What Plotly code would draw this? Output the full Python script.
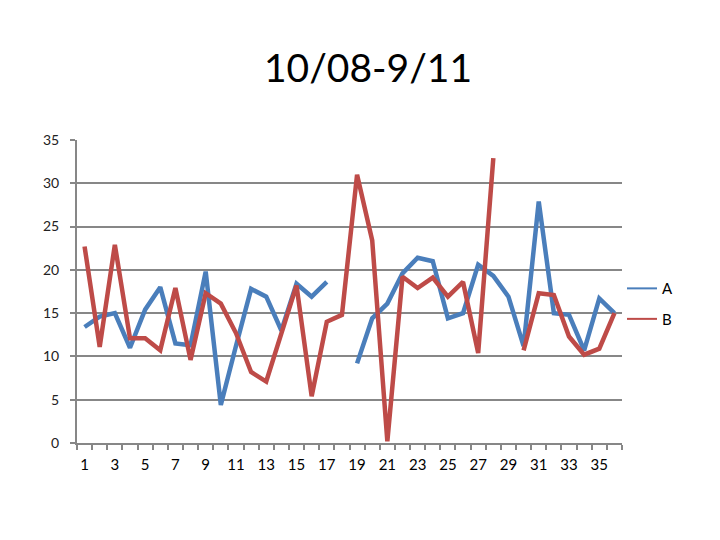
import plotly.graph_objects as go

categories = list(range(1, 37))
series_a = [13.4, 14.6, 15.0, 11.0, 15.4, 18.0, 11.5, 11.3, 19.8, 4.4,
            11.2, 17.8, 16.9, 13.0, 18.4, 16.9, 18.6, None, 9.2, 14.4,
            16.1, 19.6, 21.4, 21.0, 14.4, 15.0, 20.6, 19.3, 16.9, 11.2,
            27.9, 15.0, 14.8, 10.7, 16.7, 15.0]
series_b = [22.7, 11.1, 22.9, 12.1, 12.1, 10.7, 17.9, 9.6, 17.3, 16.1,
            12.7, 8.2, 7.1, 12.7, 18.2, 5.4, 14.0, 14.8, 31.0, 23.4,
            0.2, 19.2, 17.9, 19.1, 16.9, 18.6, 10.4, 32.9, None, 10.7,
            17.3, 17.1, 12.3, 10.2, 10.9, 15.0]
x_tick_labels = [str(v) for v in range(1, 37, 2)]
y_ticks = [0, 5, 10, 15, 20, 25, 30, 35]

BLUE = "#4A7EBB"
RED = "#BE4B48"
GRID = "#878787"
FONT = "Lato, Open Sans, sans-serif"

fig = go.Figure()
fig.add_trace(go.Scatter(x=categories, y=series_a, mode="lines", name="A",
                         line=dict(color=BLUE, width=4.5), showlegend=False,
                         connectgaps=False))
fig.add_trace(go.Scatter(x=categories, y=series_b, mode="lines", name="B",
                         line=dict(color=RED, width=4.5), showlegend=False,
                         connectgaps=False))
# legend entries with thin sample lines
fig.add_trace(go.Scatter(x=[None], y=[None], mode="lines", name="A",
                         legendgroup="a", line=dict(color=BLUE, width=2)))
fig.add_trace(go.Scatter(x=[None], y=[None], mode="lines", name="B",
                         legendgroup="b", line=dict(color=RED, width=2)))

fig.update_layout(
    width=720, height=540,
    margin=dict(l=69, r=106, t=132, b=105),
    paper_bgcolor="white", plot_bgcolor="white",
    font=dict(family=FONT, color="#000000"),
    title=dict(text="10/08-9/11", x=0.5, xanchor="center", y=1 - 60 / 540,
               yanchor="middle", font=dict(size=39, family=FONT, color="#000")),
    legend=dict(x=1.0, xanchor="left", y=0.46, yanchor="middle",
                font=dict(size=15, family=FONT), itemwidth=30,
                bgcolor="rgba(0,0,0,0)", tracegroupgap=8),
    showlegend=True,
)
fig.update_xaxes(
    range=[0.5, 36.5],
    tickmode="array", tickvals=list(range(1, 37, 2)), ticktext=x_tick_labels,
    ticks="", showgrid=False, zeroline=False,
    showline=True, linecolor=GRID, linewidth=2,
    tickfont=dict(size=15, family=FONT, color="#000"),
    ticklabelstandoff=7,
    minor=dict(tickmode="linear", tick0=0.5, dtick=1, ticks="outside",
               ticklen=5, tickcolor=GRID, tickwidth=2, showgrid=False),
)
fig.update_yaxes(
    range=[0, 35], tickmode="array", tickvals=y_ticks,
    ticks="outside", ticklen=5, tickcolor=GRID, tickwidth=2,
    showgrid=True, gridcolor=GRID, gridwidth=2, zeroline=False,
    showline=True, linecolor=GRID, linewidth=2,
    tickfont=dict(size=14, family=FONT, color="#222"),
    ticklabelstandoff=8,
)

fig.write_html("out.html")
